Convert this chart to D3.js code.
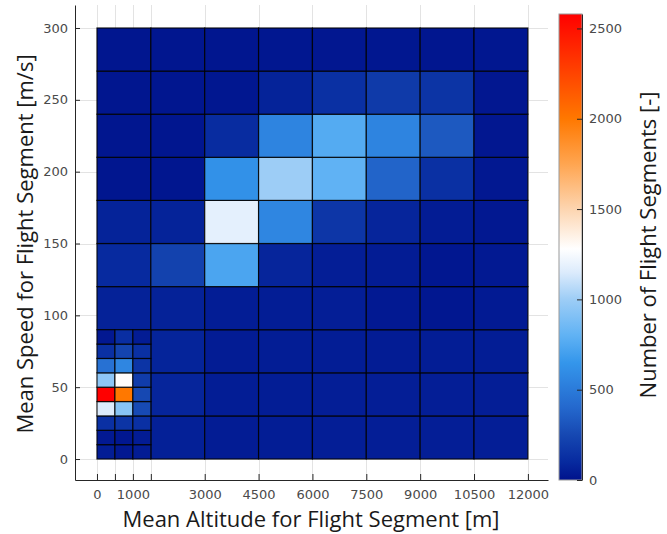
<!DOCTYPE html>
<html>
<head>
<meta charset="utf-8">
<script src="https://cdn.jsdelivr.net/npm/d3@7"></script>
<style>
  body { margin: 0; background: #fff; }
  text { font-family: "Open Sans", sans-serif; }
  .tick text { font-family: "DejaVu Sans", sans-serif; }
</style>
</head>
<body>
<div id="chart"></div>
<script>
// coarse bins: 1500 m x 30 m/s
const xEdges = [0, 1500, 3000, 4500, 6000, 7500, 9000, 10500, 12000];
const yEdges = [0, 30, 60, 90, 120, 150, 180, 210, 240, 270, 300];
// fine bins in the lower-left corner: 500 m x 10 m/s
const xEdgesFine = [0, 500, 1000, 1500];
const yEdgesFine = [0, 10, 20, 30, 40, 50, 60, 70, 80, 90];

// counts per coarse bin, rows from 0-30 m/s upward (null = covered by fine bins)
const countsCoarse = [
  [null, 60, 40, 45, 50, 50, 50, 50],
  [null, 80, 45, 45, 50, 50, 50, 50],
  [null, 75, 40, 45, 45, 40, 45, 45],
  [65, 65, 45, 45, 50, 30, 20, 35],
  [100, 220, 730, 80, 50, 40, 20, 30],
  [70, 70, 1180, 560, 160, 80, 40, 25],
  [18, 18, 620, 1000, 800, 380, 130, 25],
  [18, 18, 110, 550, 760, 550, 330, 22],
  [18, 18, 20, 70, 130, 180, 150, 22],
  [15, 15, 18, 20, 22, 20, 18, 20]
];
// counts per fine bin, rows from 0-10 m/s upward
const countsFine = [
  [45, 25, 40],
  [30, 20, 40],
  [130, 150, 130],
  [1150, 930, 260],
  [2580, 2000, 250],
  [950, 1290, 190],
  [450, 560, 150],
  [130, 230, 130],
  [25, 120, 40]
];

const xTicks = [0, 500, 1000, 1500, 3000, 4500, 6000, 7500, 9000, 10500, 12000];
const xTickLabels = ["0", "", "1000", "", "3000", "4500", "6000", "7500", "9000", "10500", "12000"];
const yTicks = [0, 50, 100, 150, 200, 250, 300];
const cbTicks = [0, 500, 1000, 1500, 2000, 2500];

const cmapStops = [0, 100, 250, 400, 550, 650, 800, 1000, 1150, 1280, 1500, 1750, 2000, 2580];
const cmapColors = ["#00128c", "#072a9f", "#1648b2", "#2468cd", "#2e84e0", "#3496eb",
  "#60b2f4", "#9dcdf6", "#dcebfc", "#ffffff", "#fdd5b0", "#ffa550", "#ff7800", "#ff0000"];
const maxCount = 2580;

const width = 667, height = 534;
const svg = d3.select("#chart").append("svg")
  .attr("width", width).attr("height", height);

const x = d3.scaleLinear().domain([-612, 12560]).range([75, 548]);
const y = d3.scaleLinear().domain([-14.6, 316]).range([480, 5]);
const color = d3.scaleLinear().domain(cmapStops).range(cmapColors)
  .interpolate(d3.interpolateRgb).clamp(true);

// grid lines
const grid = svg.append("g").attr("stroke", "#e3e3e3").attr("stroke-width", 1);
xTicks.forEach(t => grid.append("line")
  .attr("x1", Math.round(x(t)) + 0.5).attr("x2", Math.round(x(t)) + 0.5)
  .attr("y1", y.range()[1]).attr("y2", y.range()[0]));
yTicks.forEach(t => grid.append("line")
  .attr("y1", Math.round(y(t)) + 0.5).attr("y2", Math.round(y(t)) + 0.5)
  .attr("x1", x.range()[0]).attr("x2", x.range()[1]));

// cells
let cells = [];
countsCoarse.forEach((row, r) => row.forEach((v, c) => {
  if (v === null) return;
  cells.push({ x0: xEdges[c], x1: xEdges[c + 1], y0: yEdges[r], y1: yEdges[r + 1], v: v });
}));
countsFine.forEach((row, r) => row.forEach((v, c) => {
  cells.push({ x0: xEdgesFine[c], x1: xEdgesFine[c + 1], y0: yEdgesFine[r], y1: yEdgesFine[r + 1], v: v });
}));

svg.append("g").selectAll("rect")
  .data(cells)
  .enter().append("rect")
  .attr("x", d => x(d.x0))
  .attr("y", d => y(d.y1))
  .attr("width", d => x(d.x1) - x(d.x0))
  .attr("height", d => y(d.y0) - y(d.y1))
  .attr("fill", d => color(d.v))
  .attr("stroke", "#000")
  .attr("stroke-opacity", 0.85)
  .attr("stroke-width", 1.2);

// axes
const xAxis = svg.append("g")
  .attr("transform", "translate(0," + y.range()[0] + ")")
  .call(d3.axisBottom(x).tickValues(xTicks)
    .tickFormat((d, i) => xTickLabels[i]).tickSizeInner(-6).tickSizeOuter(0).tickPadding(10));
xAxis.select(".domain").attr("stroke", "#262626");
xAxis.selectAll(".tick line").attr("stroke", "#262626");
xAxis.selectAll("text").attr("fill", "#4a4a4a").style("font-size", "13px");

const yAxis = svg.append("g")
  .attr("transform", "translate(" + x.range()[0] + ",0)")
  .call(d3.axisLeft(y).tickValues(yTicks).tickSizeInner(-5).tickSizeOuter(0).tickPadding(7));
yAxis.select(".domain").attr("stroke", "#262626");
yAxis.selectAll(".tick line").attr("stroke", "#262626");
yAxis.selectAll("text").attr("fill", "#4a4a4a").style("font-size", "13px");

// axis labels
svg.append("text")
  .attr("x", 311).attr("y", 527)
  .attr("text-anchor", "middle")
  .style("font-size", "22px").attr("fill", "#1a1a1a")
  .text("Mean Altitude for Flight Segment [m]");
svg.append("text")
  .attr("transform", "translate(33,244) rotate(-90)")
  .attr("text-anchor", "middle")
  .style("font-size", "22px").attr("fill", "#1a1a1a")
  .text("Mean Speed for Flight Segment [m/s]");

// colorbar
const cb = { x: 559, w: 23, top: 14, bottom: 480 };
const cbScale = d3.scaleLinear().domain([0, maxCount]).range([cb.bottom, cb.top]);
const grad = svg.append("defs").append("linearGradient")
  .attr("id", "cbgrad").attr("x1", 0).attr("x2", 0).attr("y1", 1).attr("y2", 0);
cmapStops.forEach((s, i) => grad.append("stop")
  .attr("offset", s / maxCount).attr("stop-color", cmapColors[i]));
svg.append("rect")
  .attr("x", cb.x).attr("y", cb.top).attr("width", cb.w).attr("height", cb.bottom - cb.top)
  .attr("fill", "url(#cbgrad)").attr("stroke", "#9a9a9a").attr("stroke-width", 1);

const cbAxis = svg.append("g")
  .attr("transform", "translate(" + (cb.x + cb.w) + ",0)")
  .call(d3.axisRight(cbScale).tickValues(cbTicks).tickFormat(d3.format("d"))
    .tickSizeInner(-5).tickSizeOuter(0).tickPadding(7));
cbAxis.select(".domain").attr("stroke", "#262626");
cbAxis.selectAll(".tick line").attr("stroke", "#262626");
cbAxis.selectAll("text").attr("fill", "#4a4a4a").style("font-size", "13px");

svg.append("text")
  .attr("transform", "translate(656,245) rotate(-90)")
  .attr("text-anchor", "middle")
  .style("font-size", "22px").attr("fill", "#1a1a1a")
  .text("Number of Flight Segments [-]");
</script>
</body>
</html>
